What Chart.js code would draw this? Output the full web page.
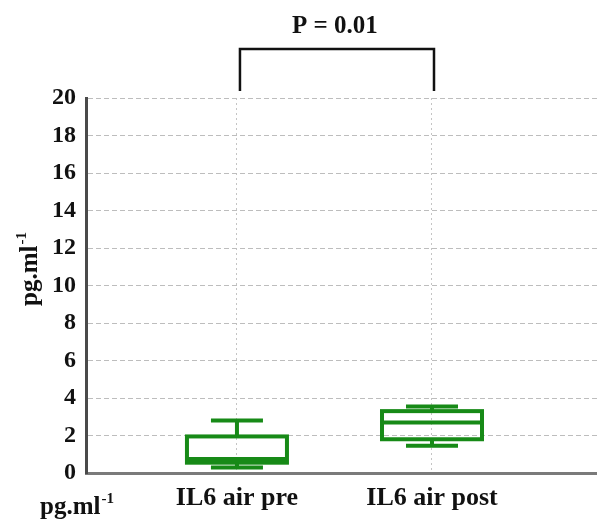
<!DOCTYPE html>
<html lang="en">
<head>
    <meta charset="UTF-8">
    <title>IL6 box plot</title>
    <script src="https://cdn.jsdelivr.net/npm/chart.js@4.4.1/dist/chart.umd.min.js"></script>
    <style>
        body { margin: 0; background: #fff; }
        #boxChart { display: block; }
    </style>
</head>
<body>
<canvas id="boxChart" width="597" height="520"></canvas>

<script>
    // data
    const categories = ['IL6 air pre', 'IL6 air post'];
    const positions = [1, 2];
    const whiskerLow = [0.3, 1.45];
    const q1 = [0.55, 1.8];
    const median = [0.75, 2.7];
    const q3 = [1.95, 3.3];
    const whiskerHigh = [2.8, 3.55];
    const yTicks = [0, 2, 4, 6, 8, 10, 12, 14, 16, 18, 20];
    const pLabel = 'P = 0.01';
    const unitMain = 'pg.ml';
    const unitSup = '-1';

    const green = '#178a17';
    const serif = '"Liberation Serif", "Times New Roman", serif';

    // box + whiskers drawn from the arrays via the scales
    const boxPlugin = {
        id: 'boxPlugin',
        afterDatasetsDraw(chart) {
            const ctx = chart.ctx;
            const xs = chart.scales.x, ys = chart.scales.y;
            ctx.save();
            ctx.strokeStyle = green;
            ctx.lineWidth = 4;
            positions.forEach((p, i) => {
                const x = xs.getPixelForValue(p);
                const half = 50, cap = 26;
                const yLo = ys.getPixelForValue(whiskerLow[i]);
                const yQ1 = ys.getPixelForValue(q1[i]);
                const yMed = ys.getPixelForValue(median[i]);
                const yQ3 = ys.getPixelForValue(q3[i]);
                const yHi = ys.getPixelForValue(whiskerHigh[i]);
                ctx.strokeRect(x - half, yQ3, half * 2, yQ1 - yQ3);
                ctx.beginPath();
                ctx.moveTo(x - half, yMed); ctx.lineTo(x + half, yMed);
                ctx.moveTo(x, yQ3); ctx.lineTo(x, yHi);
                ctx.moveTo(x - cap, yHi); ctx.lineTo(x + cap, yHi);
                ctx.moveTo(x, yQ1); ctx.lineTo(x, yLo);
                ctx.moveTo(x - cap, yLo); ctx.lineTo(x + cap, yLo);
                ctx.stroke();
            });
            ctx.restore();
        },
        afterDraw(chart) {
            const ctx = chart.ctx;
            const xs = chart.scales.x;
            const area = chart.chartArea;
            const x1 = xs.getPixelForValue(positions[0]) + 3;
            const x2 = xs.getPixelForValue(positions[1]) + 2;
            ctx.save();
            // significance bracket
            ctx.strokeStyle = '#111';
            ctx.lineWidth = 2.5;
            ctx.beginPath();
            ctx.moveTo(x1, area.top - 7);
            ctx.lineTo(x1, area.top - 49);
            ctx.lineTo(x2, area.top - 49);
            ctx.lineTo(x2, area.top - 7);
            ctx.stroke();
            ctx.fillStyle = '#111';
            ctx.font = 'bold 25px ' + serif;
            ctx.textAlign = 'center';
            ctx.textBaseline = 'alphabetic';
            ctx.fillText(pLabel, (x1 + x2) / 2 - 2, 33);

            // y axis title with superscript
            ctx.font = 'bold 25px ' + serif;
            const wMain = ctx.measureText(unitMain).width;
            ctx.font = 'bold 15px ' + serif;
            const wSup = ctx.measureText(unitSup).width;
            const total = wMain + wSup;
            ctx.save();
            ctx.translate(37, (area.top + area.bottom) / 2 - 16);
            ctx.rotate(-Math.PI / 2);
            ctx.textAlign = 'left';
            ctx.font = 'bold 25px ' + serif;
            ctx.fillText(unitMain, -total / 2, 0);
            ctx.font = 'bold 15px ' + serif;
            ctx.fillText(unitSup, -total / 2 + wMain + 1, -11);
            ctx.restore();

            // unit label under the axis
            ctx.textAlign = 'left';
            ctx.font = 'bold 25px ' + serif;
            ctx.fillText(unitMain, 40, 514);
            ctx.font = 'bold 15px ' + serif;
            ctx.fillText(unitSup, 40 + wMain + 1, 503);
            ctx.restore();
        }
    };

    const chart = new Chart(document.getElementById('boxChart'), {
        type: 'scatter',
        data: {
            datasets: [{
                data: positions.map((p, i) => ({ x: p, y: median[i] })),
                pointRadius: 0
            }]
        },
        options: {
            responsive: false,
            animation: false,
            devicePixelRatio: 1,
            layout: { padding: { top: 98, left: 0, right: 0, bottom: 0 } },
            plugins: { legend: { display: false }, tooltip: { enabled: false } },
            scales: {
                x: {
                    type: 'linear',
                    min: 0.226,
                    max: 2.846,
                    afterBuildTicks: axis => { axis.ticks = positions.map(v => ({ value: v })); },
                    afterFit: scale => { scale.height = 47; },
                    ticks: {
                        callback: v => categories[positions.indexOf(v)],
                        font: { family: serif, size: 26, weight: 'bold' },
                        color: '#111',
                        padding: 10,
                        maxRotation: 0
                    },
                    grid: { color: '#c4c4c4', lineWidth: 1, drawTicks: false },
                    border: { color: '#7a7a7a', width: 3, dash: [2, 3] }
                },
                y: {
                    min: 0,
                    max: 20,
                    afterBuildTicks: axis => { axis.ticks = yTicks.map(v => ({ value: v })); },
                    afterFit: scale => { scale.width = 86; },
                    ticks: {
                        font: { family: serif, size: 24, weight: 'bold' },
                        color: '#111',
                        padding: 10
                    },
                    grid: { color: '#bdbdbd', lineWidth: 1, drawTicks: false },
                    border: { color: '#4a4a4a', width: 3, dash: [5, 3] }
                }
            }
        },
        plugins: [boxPlugin]
    });
</script>
</body>
</html>
